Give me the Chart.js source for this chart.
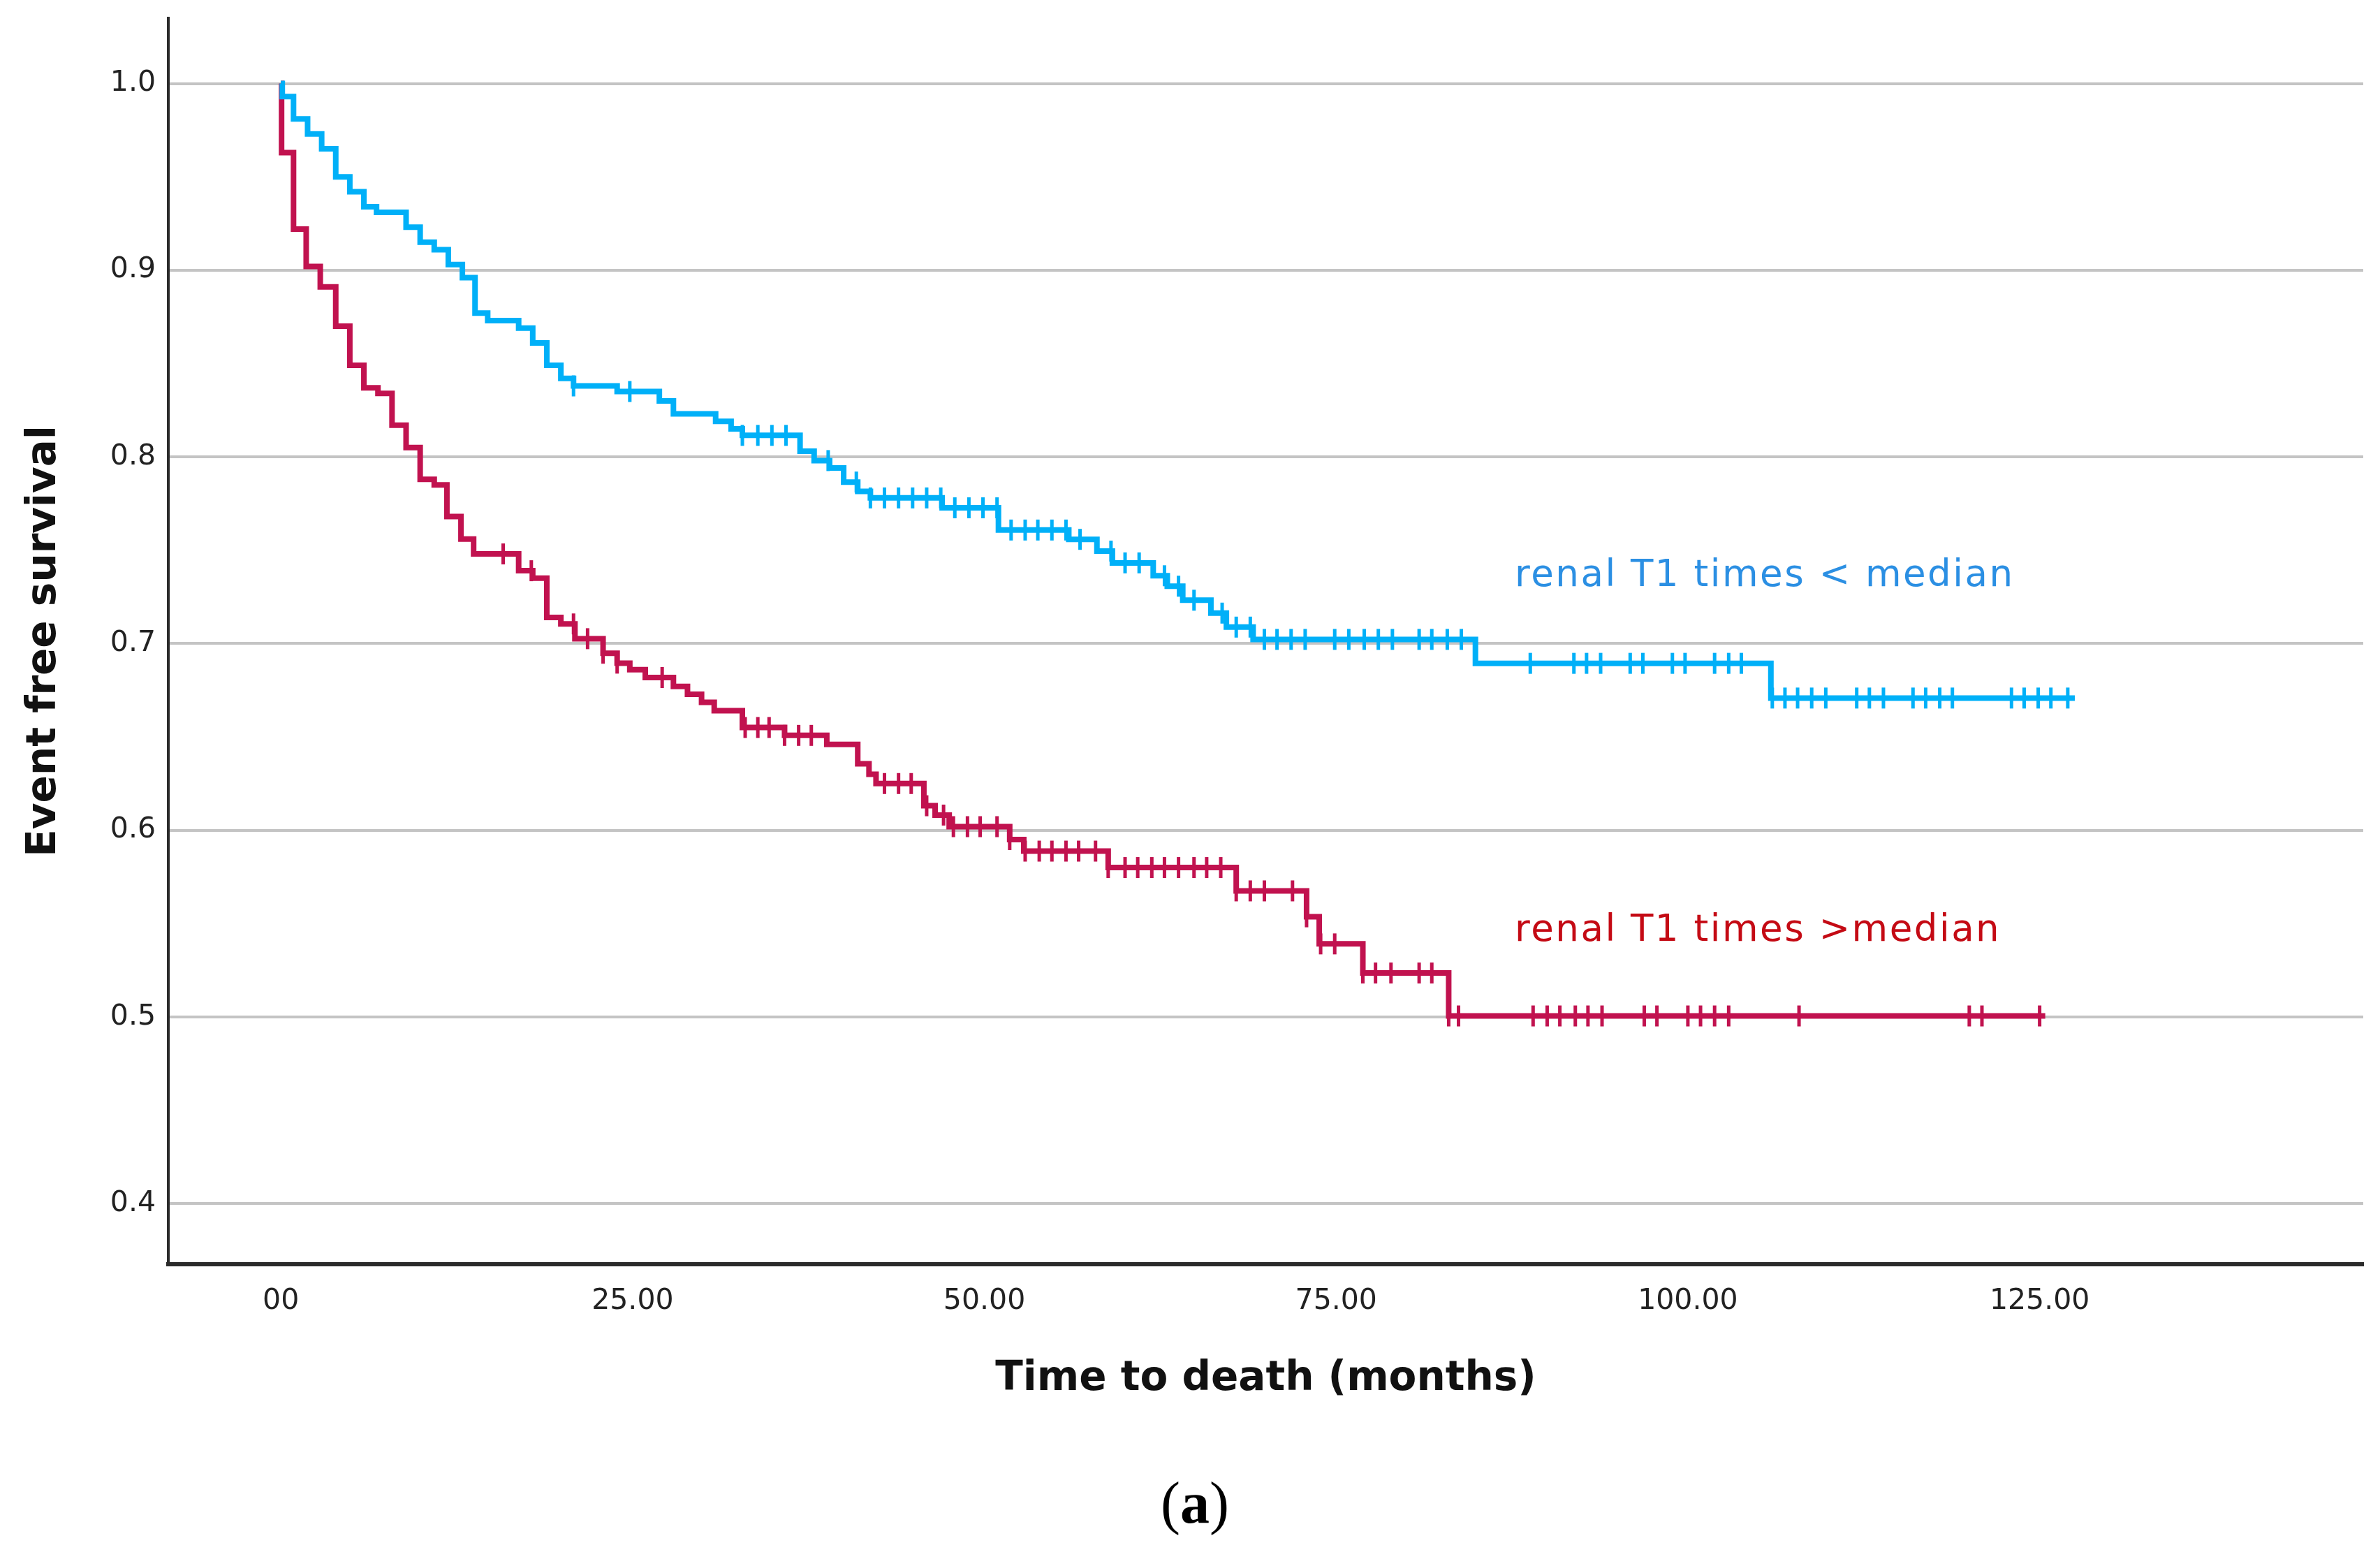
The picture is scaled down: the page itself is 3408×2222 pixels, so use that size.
<!DOCTYPE html>
<html>
<head>
<meta charset="utf-8">
<title>Event free survival</title>
<script src="https://cdn.jsdelivr.net/npm/chart.js@4.4.1/dist/chart.umd.min.js"></script>
<style>
  html, body { margin: 0; padding: 0; background: #fff; }
  canvas { display: block; }
</style>
</head>
<body>
<canvas id="kmChart" width="3408" height="2222"></canvas>
<script>
// axis ticks
const xTickValues = [0, 25, 50, 75, 100, 125];
const xTickLabels = ['00', '25.00', '50.00', '75.00', '100.00', '125.00'];
const yTickValues = [0.4, 0.5, 0.6, 0.7, 0.8, 0.9, 1.0];
const yTickLabels = ['0.4', '0.5', '0.6', '0.7', '0.8', '0.9', '1.0'];

const seriesNames = ['renal T1 times < median', 'renal T1 times >median'];

// renal T1 times < median : step times (months) and survival after each step
const lowTimes = [0, 0.1, 0.9, 1.9, 2.9, 3.9, 4.9, 5.9, 6.8, 8.9,
  9.9, 10.9, 11.9, 12.9, 13.8, 14.7, 16.9, 17.9, 18.9, 19.9,
  20.8, 23.9, 26.9, 27.9, 30.9, 32.0, 32.8, 36.9, 37.9, 39.0,
  40.0, 41.0, 41.9, 47.0, 51.0, 56.0, 58.0, 59.1, 62.0, 63.0,
  64.1, 66.1, 67.2, 69.1, 84.9, 105.9, 127.5];
const lowSurv = [1.0, 0.993, 0.981, 0.973, 0.965, 0.950, 0.942, 0.934, 0.931, 0.923,
  0.915, 0.911, 0.903, 0.896, 0.877, 0.873, 0.869, 0.861, 0.849, 0.842,
  0.838, 0.835, 0.830, 0.823, 0.819, 0.815, 0.8115, 0.803, 0.798, 0.794,
  0.7865, 0.7815, 0.778, 0.7727, 0.7608, 0.7558, 0.7495, 0.7432, 0.7363, 0.7307,
  0.7232, 0.7163, 0.7088, 0.7022, 0.6894, 0.6708, 0.6708];
const lowCensored = [20.8, 24.8, 32.8, 33.9, 34.9, 35.9, 38.9, 40.9, 41.9, 42.9,
  43.9, 44.9, 45.9, 46.9, 47.9, 48.9, 49.9, 50.9, 51.9, 52.9,
  53.8, 54.8, 55.8, 56.8, 59.0, 60.0, 61.0, 62.8, 63.8, 64.9,
  66.9, 67.9, 68.9, 69.9, 70.8, 71.8, 72.8, 74.9, 75.9, 77.0,
  78.0, 79.0, 80.9, 81.8, 82.9, 83.9, 88.8, 91.9, 92.8, 93.8,
  95.9, 96.8, 98.9, 99.8, 101.9, 102.9, 103.8, 106.0, 106.9, 107.8,
  108.8, 109.8, 112.0, 112.9, 113.9, 116.0, 116.9, 117.9, 118.8, 123.0,
  123.9, 124.9, 125.8, 127.0];

// renal T1 times > median
const highTimes = [0, 0.05, 0.9, 1.8, 2.8, 3.9, 4.9, 5.9, 6.9, 7.9,
  8.9, 9.9, 10.9, 11.8, 12.8, 13.7, 16.9, 17.9, 18.9, 19.9,
  20.9, 22.9, 23.9, 24.8, 25.9, 27.9, 28.9, 29.9, 30.8, 32.8,
  35.8, 38.8, 41.0, 41.8, 42.3, 45.7, 46.5, 47.5, 51.8, 52.8,
  58.8, 67.9, 72.9, 73.8, 76.9, 83.0, 125.4];
const highSurv = [1.0, 0.963, 0.922, 0.902, 0.891, 0.870, 0.849, 0.837, 0.834, 0.817,
  0.805, 0.788, 0.785, 0.768, 0.756, 0.748, 0.739, 0.735, 0.714, 0.7105,
  0.7026, 0.6948, 0.6895, 0.686, 0.6818, 0.677, 0.6728, 0.6685, 0.664, 0.655,
  0.6508, 0.646, 0.6356, 0.630, 0.625, 0.6131, 0.6081, 0.6019, 0.595, 0.5888,
  0.580, 0.5675, 0.5536, 0.5391, 0.5235, 0.5005, 0.5005];
const highCensored = [15.8, 17.8, 20.8, 21.8, 22.9, 23.9, 27.1, 33.0, 33.9, 34.7,
  35.8, 36.8, 37.7, 42.9, 43.9, 44.8, 45.9, 47.1, 47.8, 48.8,
  49.7, 50.9, 51.8, 52.9, 53.9, 54.8, 55.8, 56.7, 57.9, 58.8,
  60.0, 60.9, 61.9, 62.8, 63.8, 64.9, 65.8, 66.8, 67.9, 68.9,
  69.9, 71.9, 72.9, 73.9, 74.9, 76.9, 77.8, 78.9, 80.9, 81.8,
  83.0, 83.7, 89.0, 90.0, 90.9, 92.0, 92.9, 93.9, 96.9, 97.8,
  100.0, 100.9, 101.9, 102.9, 107.9, 120.0, 120.9, 125.0];

const blue = '#00B0F8';
const red = '#C1124F';

// value of the step curve at time t (for placing censor marks on it)
const survAt = (times, surv, t) => {
  let s = surv[0];
  for (let i = 0; i < times.length; i++) {
    if (times[i] <= t) s = surv[i];
  }
  return s;
}

const stepData = (times, surv) => times.map((t, i) => ({x: t, y: surv[i]}));
const censorData = (cens, times, surv) => cens.map(t => ({x: t, y: survAt(times, surv, t)}));

const textPlugin = {
  id: 'kmText',
  afterDraw(chart) {
    const {ctx, scales: {x, y}} = chart;
    ctx.save();
    ctx.font = '53px "DejaVu Sans"';
    ctx.letterSpacing = '2.5px';
    ctx.textBaseline = 'middle';
    ctx.textAlign = 'left';
    ctx.fillStyle = '#2B8FE3';
    ctx.fillText(seriesNames[0], x.getPixelForValue(87.7), y.getPixelForValue(0.736));
    ctx.fillStyle = '#C40A14';
    ctx.fillText(seriesNames[1], x.getPixelForValue(87.7), y.getPixelForValue(0.546));

    // caption (a)
    ctx.letterSpacing = '0px';
    ctx.fillStyle = '#000';
    const normal = '84px "Liberation Serif"';
    const bold = 'bold 84px "Liberation Serif"';
    ctx.font = normal;
    const wp = ctx.measureText('(').width;
    const wc = ctx.measureText(')').width;
    ctx.font = bold;
    const wa = ctx.measureText('a').width;
    let cx = 1711 - (wp + wa + wc) / 2;
    const cy = 2158;
    ctx.font = normal;
    ctx.fillText('(', cx, cy);
    cx += wp;
    ctx.font = bold;
    ctx.fillText('a', cx, cy);
    cx += wa;
    ctx.font = normal;
    ctx.fillText(')', cx, cy);
    ctx.restore();
  }
};

const config = {
  type: 'scatter',
  data: {
    datasets: [
      {
        label: seriesNames[0],
        data: stepData(lowTimes, lowSurv),
        showLine: true,
        stepped: true,
        borderColor: blue,
        borderWidth: 8,
        pointRadius: 0,
        fill: false
      },
      {
        label: seriesNames[0] + ' censored',
        data: censorData(lowCensored, lowTimes, lowSurv),
        pointStyle: 'line',
        rotation: 90,
        pointRadius: 15,
        borderColor: blue,
        backgroundColor: blue,
        borderWidth: 5
      },
      {
        label: seriesNames[1],
        data: stepData(highTimes, highSurv),
        showLine: true,
        stepped: true,
        borderColor: red,
        borderWidth: 8,
        pointRadius: 0,
        fill: false
      },
      {
        label: seriesNames[1] + ' censored',
        data: censorData(highCensored, highTimes, highSurv),
        pointStyle: 'line',
        rotation: 90,
        pointRadius: 15,
        borderColor: red,
        backgroundColor: red,
        borderWidth: 5
      }
    ]
  },
  options: {
    responsive: false,
    devicePixelRatio: 1,
    animation: false,
    layout: { padding: { top: 26, right: 24, left: 0, bottom: 0 } },
    plugins: {
      legend: { display: false },
      tooltip: { enabled: false }
    },
    scales: {
      x: {
        type: 'linear',
        min: -8,
        max: 148,
        afterBuildTicks: axis => { axis.ticks = xTickValues.map(v => ({value: v})); },
        afterFit: axis => {
          axis.height = 412;
          axis.paddingLeft = 0;
          axis.paddingRight = 0;
        },
        grid: { display: false, drawTicks: false },
        border: { display: true, color: '#2b2b2b', width: 6 },
        ticks: {
          callback: (v, i) => xTickLabels[i],
          padding: 29,
          maxRotation: 0,
          autoSkip: false,
          color: '#222',
          font: { family: 'DejaVu Sans', size: 41 }
        },
        title: {
          display: true,
          text: 'Time to death (months)',
          color: '#111',
          font: { family: 'DejaVu Sans', size: 58, weight: 'bold' },
          padding: { top: 0, bottom: 212 }
        }
      },
      y: {
        type: 'linear',
        min: 0.3675,
        max: 1.035,
        afterBuildTicks: axis => { axis.ticks = yTickValues.map(v => ({value: v})); },
        afterFit: axis => {
          axis.width = 241;
          axis.paddingTop = 0;
          axis.paddingBottom = 0;
        },
        grid: { color: '#c4c4c4', lineWidth: 4, drawTicks: false },
        border: { display: true, color: '#2b2b2b', width: 4 },
        ticks: {
          callback: (v, i) => yTickLabels[i],
          padding: 18,
          color: '#222',
          font: { family: 'DejaVu Sans', size: 41 }
        },
        title: {
          display: true,
          text: 'Event free survival',
          color: '#111',
          font: { family: 'DejaVu Sans', size: 58, weight: 'bold' },
          padding: { top: 29, bottom: 0 }
        }
      }
    }
  },
  plugins: [textPlugin]
};

var kmChart = new Chart(document.getElementById('kmChart'), config);
</script>
</body>
</html>
